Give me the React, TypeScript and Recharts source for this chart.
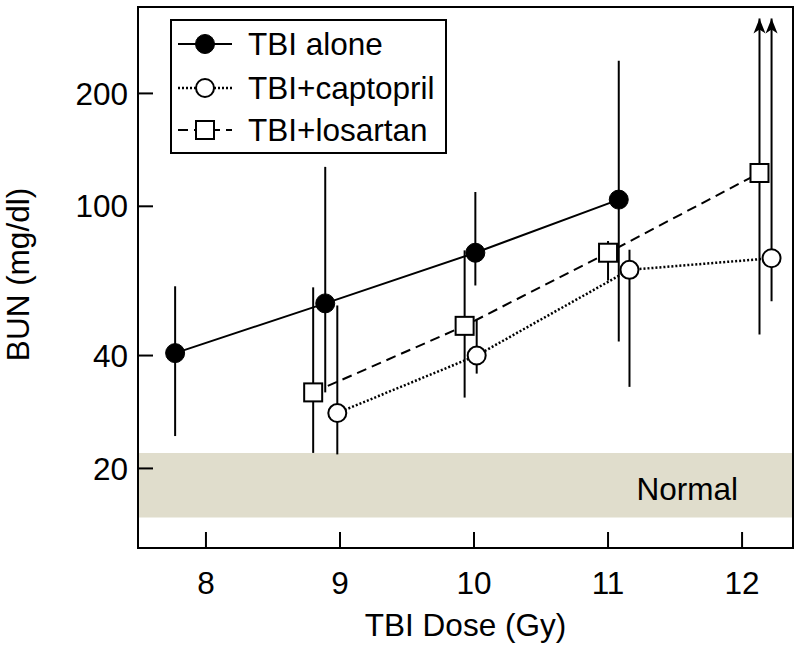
import {
  ComposedChart,
  Line,
  Scatter,
  XAxis,
  YAxis,
  ErrorBar,
  ReferenceArea,
  Legend,
  Label,
} from 'recharts';

// values (BUN in mg/dl, dose in Gy)
const aloneDose = [7.77, 8.89, 10.01, 11.08];
const aloneBun = [40.6, 55.1, 75.2, 104.2];
const aloneLow = [24.4, 31.9, 61.5, 43.6];
const aloneHigh = [61.2, 127.4, 109.2, 244.6];

const captoprilDose = [8.98, 10.02, 11.16, 12.22];
const captoprilBun = [28.1, 40.0, 67.7, 72.7];
const captoprilLow = [21.8, 35.8, 33.0, 55.8];
const captoprilHigh = [54.4, 50.1, 76.6, 317];

const losartanDose = [8.8, 9.93, 11.0, 12.13];
const losartanBun = [31.9, 48.0, 75.2, 122.7];
const losartanLow = [22.0, 30.9, 63.4, 45.5];
const losartanHigh = [60.8, 76.3, 80.8, 317];

const xTicks = [8, 9, 10, 11, 12];
const yTicks = [20, 40, 100, 200];
const normalRange = [14.8, 22];

const X_DOMAIN = [7.493, 12.38];
const Y_DOMAIN = [12.27, 340];
const OFF_SCALE = 300; // upper bars above this end in an arrow

const FONT = "'Liberation Sans', Arial, Helvetica, sans-serif";
const FS = 31.5;

type MarkerKind = 'filled' | 'circle' | 'square';

interface SeriesConfig {
  name: string;
  dose: number[];
  bun: number[];
  low: number[];
  high: number[];
  marker: MarkerKind;
  dash?: string;
  width: number;
}

const SERIES: SeriesConfig[] = [
  { name: 'TBI alone', dose: aloneDose, bun: aloneBun, low: aloneLow, high: aloneHigh, marker: 'filled', width: 2 },
  { name: 'TBI+captopril', dose: captoprilDose, bun: captoprilBun, low: captoprilLow, high: captoprilHigh, marker: 'circle', dash: '2 2', width: 2.5 },
  { name: 'TBI+losartan', dose: losartanDose, bun: losartanBun, low: losartanLow, high: losartanHigh, marker: 'square', dash: '10 6', width: 2 },
];

function toPoints(s: SeriesConfig) {
  return s.dose.map((d, i) => ({
    dose: d,
    bun: s.bun[i],
    err: [s.bun[i] - s.low[i], s.high[i] - s.bun[i]],
  }));
}

const arrowPoints = SERIES.flatMap((s) =>
  s.dose
    .map((d, i) => ({ dose: d, bun: s.high[i] }))
    .filter((p) => p.bun > OFF_SCALE)
);

function Marker({ kind, cx, cy }: { kind: MarkerKind; cx: number; cy: number }) {
  if (kind === 'filled') {
    return <circle cx={cx} cy={cy} r={9.5} fill="#000" stroke="#000" strokeWidth={1} />;
  }
  if (kind === 'circle') {
    return <circle cx={cx} cy={cy} r={9} fill="#fff" stroke="#000" strokeWidth={2} />;
  }
  return <rect x={cx - 9} y={cy - 9} width={18} height={18} fill="#fff" stroke="#000" strokeWidth={2} />;
}

function ArrowHead(props: any) {
  const { cx, cy } = props;
  return (
    <path
      d={`M${cx},${cy} L${cx + 6},${cy + 15} L${cx},${cy + 11} L${cx - 6},${cy + 15} Z`}
      fill="#000"
    />
  );
}

function LegendBox() {
  const rows = [25, 69, 111];
  return (
    <svg width={277} height={135} style={{ display: 'block' }}>
      <rect x={1} y={1} width={275} height={133} fill="#fff" stroke="#000" strokeWidth={2} />
      {SERIES.map((s, i) => (
        <g key={s.name}>
          <line
            x1={8}
            x2={62}
            y1={rows[i]}
            y2={rows[i]}
            stroke="#000"
            strokeWidth={s.width}
            strokeDasharray={s.dash}
          />
          <Marker kind={s.marker} cx={35} cy={rows[i]} />
          <text x={78} y={rows[i] + 11.2} fontSize={FS} fill="#000" fontFamily={FONT}>
            {s.name}
          </text>
        </g>
      ))}
    </svg>
  );
}

export default function App() {
  return (
    <div style={{ position: 'absolute', left: 0, top: 0, background: '#fff' }}>
      <ComposedChart
        width={800}
        height={646}
        margin={{ top: 7, right: 7, bottom: 0, left: 0 }}
        style={{ fontFamily: FONT }}
      >
        <XAxis
          type="number"
          dataKey="dose"
          domain={X_DOMAIN}
          ticks={xTicks}
          interval={0}
          allowDataOverflow
          height={98}
          tickSize={-16}
          tickMargin={40}
          tick={{ fontSize: FS, fill: '#000' }}
          tickLine={{ stroke: '#000', strokeWidth: 2 }}
          axisLine={{ stroke: '#000', strokeWidth: 2 }}
        >
          <Label value="TBI Dose (Gy)" position="insideBottom" offset={10} fontSize={FS} fill="#000" />
        </XAxis>
        <YAxis
          type="number"
          scale="log"
          domain={Y_DOMAIN}
          ticks={yTicks}
          interval={0}
          allowDataOverflow
          width={138}
          tickSize={-15}
          tickMargin={25}
          tick={{ fontSize: FS, fill: '#000' }}
          tickLine={{ stroke: '#000', strokeWidth: 2 }}
          axisLine={{ stroke: '#000', strokeWidth: 2 }}
        >
          <Label
            content={(p: any) => {
              const vb = p.viewBox;
              const x = vb.x + 29;
              const y = vb.y + vb.height / 2 - 3;
              return (
                <text
                  x={x}
                  y={y}
                  transform={`rotate(-90, ${x}, ${y})`}
                  textAnchor="middle"
                  fontSize={FS}
                  fill="#000"
                  fontFamily={FONT}
                >
                  BUN (mg/dl)
                </text>
              );
            }}
          />
        </YAxis>

        <ReferenceArea
          y1={normalRange[0]}
          y2={normalRange[1]}
          fill="#e0ddcc"
          fillOpacity={1}
          stroke="none"
          ifOverflow="visible"
        >
          <Label
            content={(p: any) => {
              const vb = p.viewBox;
              return (
                <text
                  x={vb.x + vb.width - 55}
                  y={vb.y + vb.height / 2 + 15}
                  textAnchor="end"
                  fontSize={FS}
                  fill="#000"
                  fontFamily={FONT}
                >
                  Normal
                </text>
              );
            }}
          />
        </ReferenceArea>

        {SERIES.map((s) => (
          <Line
            key={s.name}
            name={s.name}
            data={toPoints(s)}
            dataKey="bun"
            type="linear"
            stroke="#000"
            strokeWidth={s.width}
            strokeDasharray={s.dash}
            isAnimationActive={false}
            activeDot={false}
            dot={(p: any) => <Marker key={`${s.name}-${p.index}`} kind={s.marker} cx={p.cx} cy={p.cy} />}
          >
            <ErrorBar dataKey="err" direction="y" width={0} stroke="#000" strokeWidth={2} />
          </Line>
        ))}

        <Scatter
          name="off scale"
          data={arrowPoints}
          dataKey="bun"
          shape={ArrowHead}
          isAnimationActive={false}
        />

        <ReferenceArea
          x1={X_DOMAIN[0]}
          x2={X_DOMAIN[1]}
          y1={Y_DOMAIN[0]}
          y2={Y_DOMAIN[1]}
          fill="none"
          stroke="#000"
          strokeWidth={2}
          ifOverflow="visible"
        />

        <Legend
          layout="vertical"
          align="center"
          verticalAlign="middle"
          wrapperStyle={{ left: 170, top: 19, width: 277, height: 135 }}
          content={() => <LegendBox />}
        />
      </ComposedChart>
    </div>
  );
}
